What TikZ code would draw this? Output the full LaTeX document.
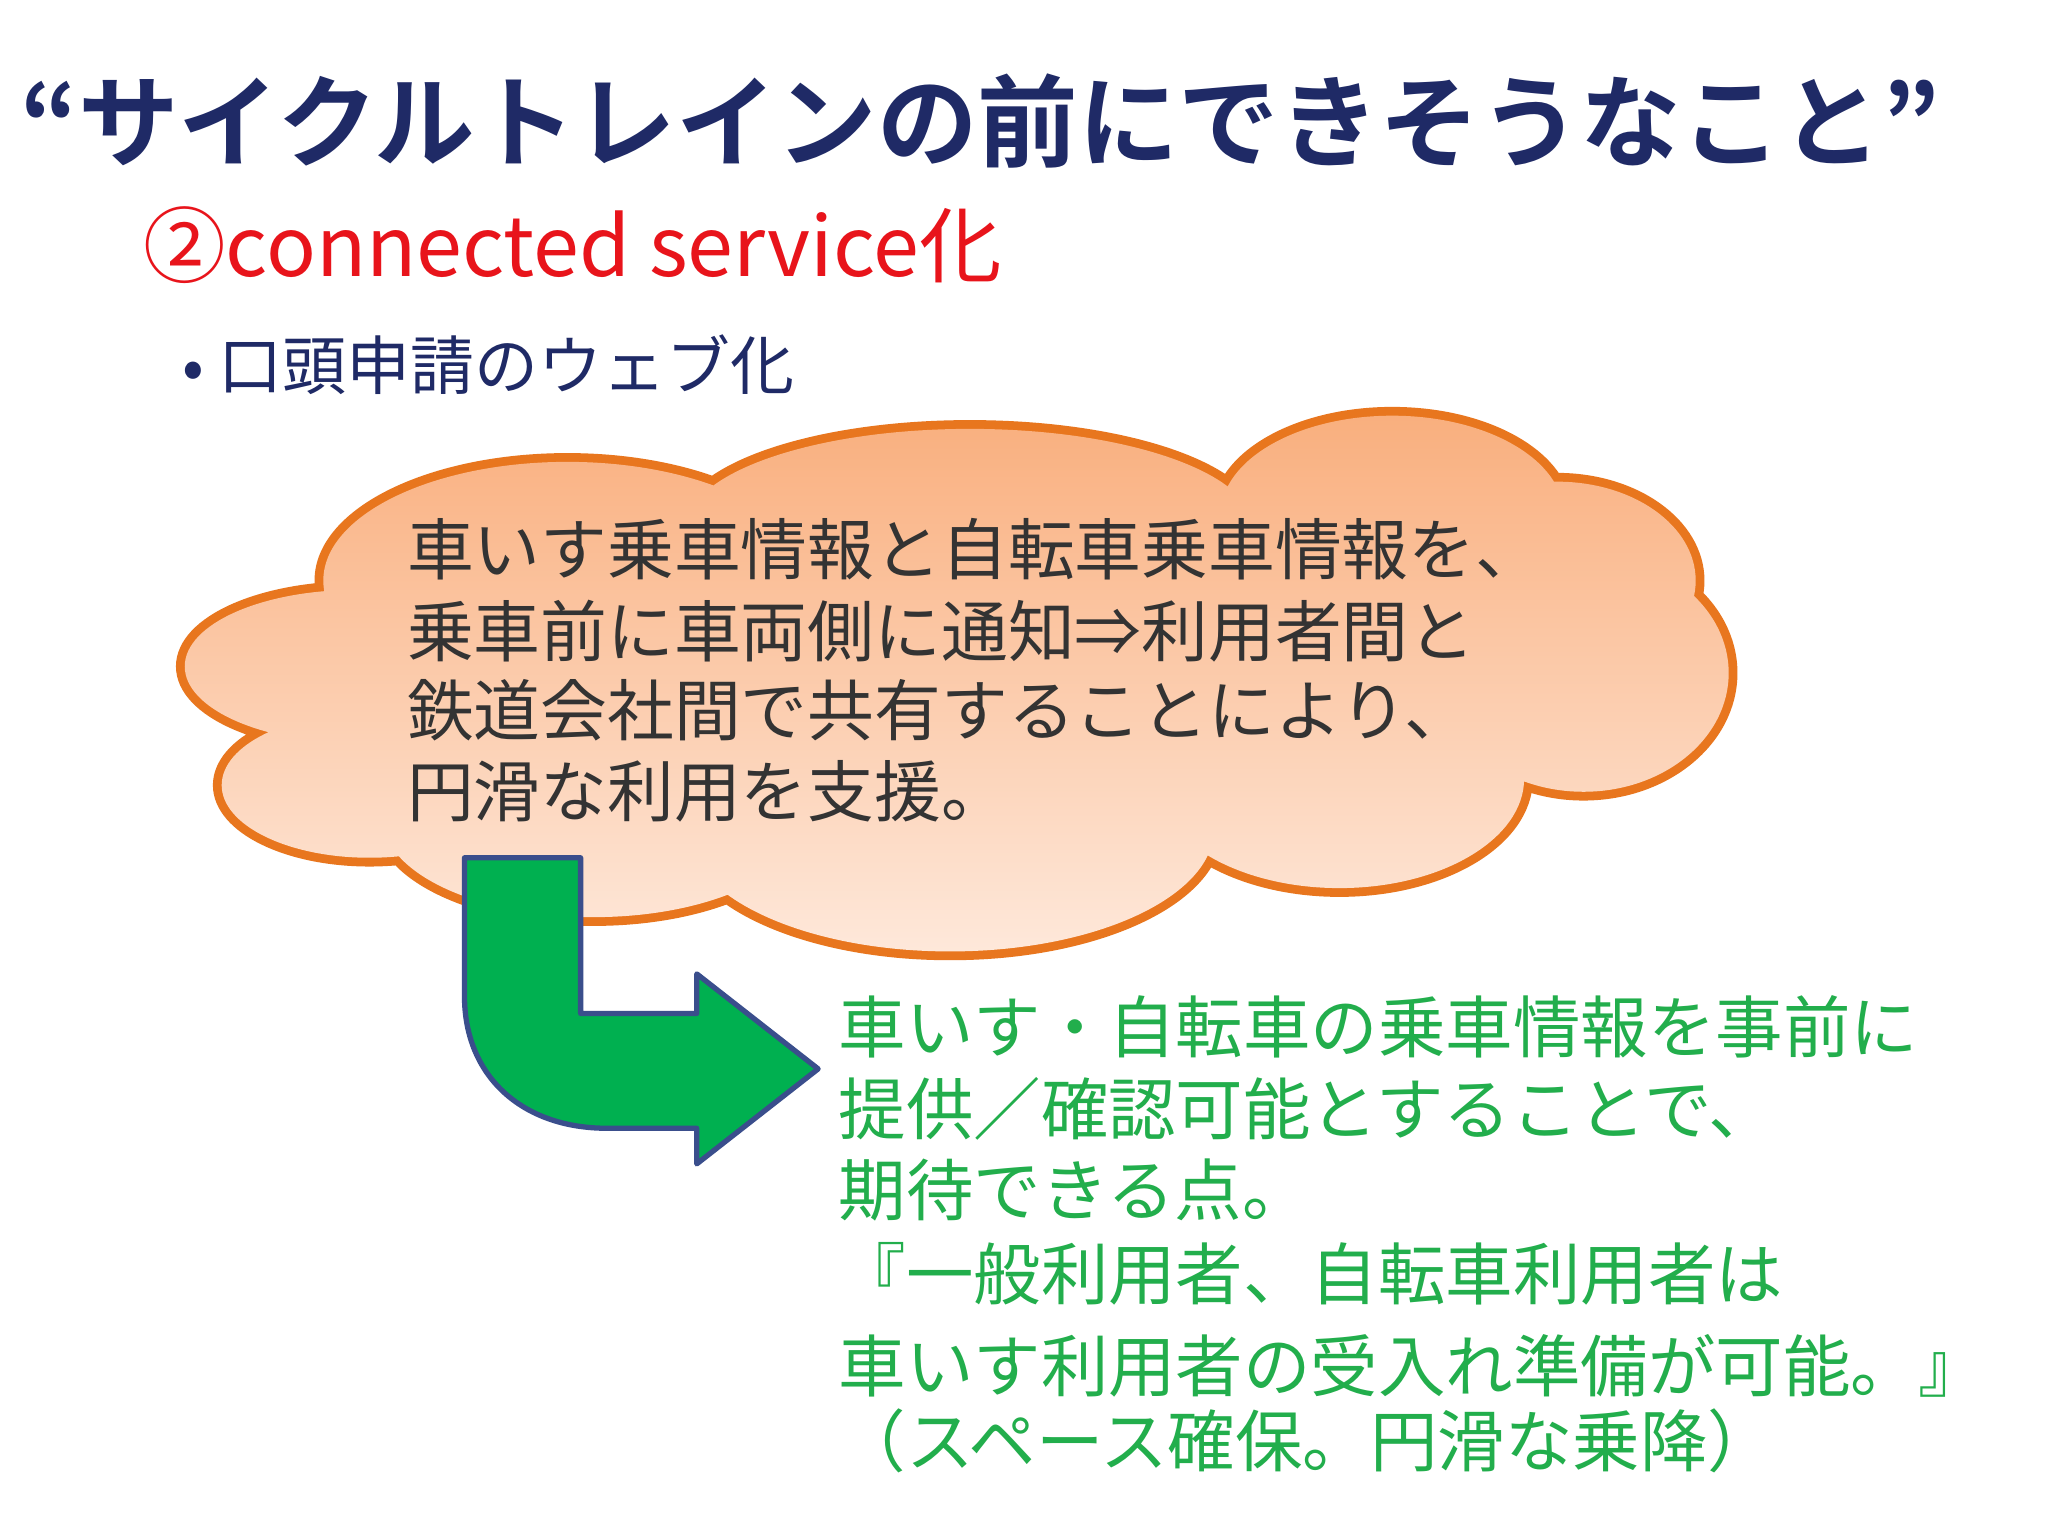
\documentclass[tikz,border=0pt]{standalone}
\usepackage{fontspec}
\setmainfont{Noto Sans CJK JP}
\newfontfamily\jpb{Noto Sans CJK JP Bold}
\definecolor{navy}{HTML}{1F2A66}
\definecolor{cred}{HTML}{E8141B}
\definecolor{corange}{HTML}{E8761E}
\definecolor{ctop}{HTML}{F9AF7E}
\definecolor{cbot}{HTML}{FEE8DA}
\definecolor{cgreen}{HTML}{00B050}
\definecolor{tgreen}{HTML}{22AE4C}
\definecolor{arrline}{HTML}{3A4E8C}
\begin{document}
\begin{tikzpicture}[x=0.013196cm,y=-0.013196cm,
  tl/.style={anchor=west,inner sep=0pt},
  cloudtxt/.style={tl,text=black!80,font=\fontsize{19pt}{22pt}\selectfont},
  greentxt/.style={tl,text=tgreen,font=\fontsize{19.2pt}{22pt}\selectfont}]
\useasboundingbox[fill=white] (0,0) rectangle (1552,1164);
\node[tl,text=navy,font=\jpb\fontsize{28.6pt}{32pt}\selectfont] (title) at (15,92) {“サイクルトレインの前にできそうなこと”};
\node[tl,text=cred,font=\fontsize{23.5pt}{27pt}\selectfont] (sub) at (108,186) {②connected service化};
\node[tl,text=navy,font=\fontsize{18.2pt}{21pt}\selectfont] (bul) at (138,276) {• 口頭申請のウェブ化};
% cloud
\def\cloudpath{(430,440) ellipse [x radius=185,y radius=90]
 (735,400) ellipse [x radius=215,y radius=75]
 (1055,390) ellipse [x radius=130,y radius=75]
 (1180,440) ellipse [x radius=105,y radius=75]
 (1200,510) ellipse [x radius=110,y radius=90]
 (270,505) ellipse [x radius=130,y radius=58]
 (280,595) ellipse [x radius=112,y radius=55]
 (450,620) ellipse [x radius=160,y radius=75]
 (720,628) ellipse [x radius=200,y radius=93]
 (1015,590) ellipse [x radius=140,y radius=83]
 (720,510) ellipse [x radius=460,y radius=150]}
\draw[corange,line width=5pt] \cloudpath;
\shade[top color=ctop,bottom color=cbot] \cloudpath;
\node[cloudtxt] (c1) at (308,416) {車いす乗車情報と自転車乗車情報を、};
\node[cloudtxt] (c2) at (308,478) {乗車前に車両側に通知⇒利用者間と};
\node[cloudtxt] (c3) at (308,538) {鉄道会社間で共有することにより、};
\node[cloudtxt] (c4) at (308,600) {円滑な利用を支援。};
% arrow
\draw[fill=cgreen,draw=arrline,line width=1.5pt,line join=round]
 (352,650) -- (440,650) -- (440,768) -- (528,768) -- (528,738) -- (620,810)
 -- (528,882) -- (528,855) -- (460,855) .. controls (395,855) and (352,815) .. (352,755) -- cycle;
\node[greentxt] (g1) at (635,778) {車いす・自転車の乗車情報を事前に};
\node[greentxt] (g2) at (635,840) {提供／確認可能とすることで、};
\node[greentxt] (g3) at (635,902) {期待できる点。};
\node[greentxt] (g4) at (635,965) {『一般利用者、自転車利用者は};
\node[greentxt] (g5) at (635,1035) {車いす利用者の受入れ準備が可能。』};
\node[greentxt] (g6) at (635,1092) {（スペース確保。円滑な乗降）};
\end{tikzpicture}
\end{document}
